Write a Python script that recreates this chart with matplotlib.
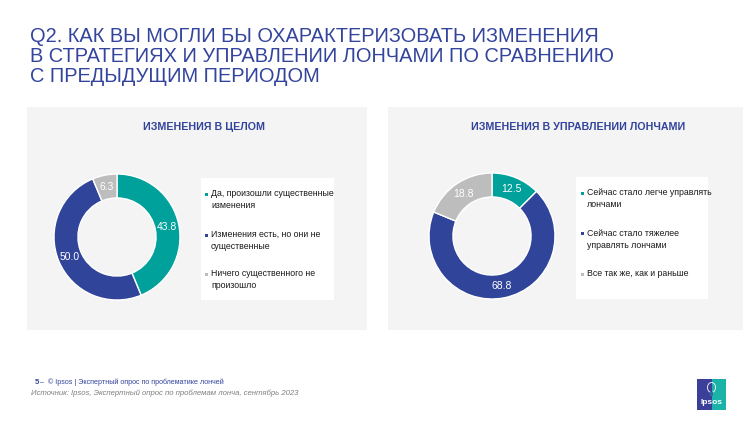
import matplotlib
matplotlib.use("Agg")
import matplotlib.pyplot as plt
from matplotlib.patches import Rectangle, Ellipse

plt.rcParams['font.family'] = ['Liberation Sans', 'DejaVu Sans']

TEAL = '#00A19B'
BLUE = '#30449A'
GRAY = '#BDBDBD'
PANEL = '#F4F4F4'
TITLE_C = '#33449C'

title_lines = ["Q2. КАК ВЫ МОГЛИ БЫ ОХАРАКТЕРИЗОВАТЬ ИЗМЕНЕНИЯ",
               "В СТРАТЕГИЯХ И УПРАВЛЕНИИ ЛОНЧАМИ ПО СРАВНЕНИЮ",
               "С ПРЕДЫДУЩИМ ПЕРИОДОМ"]

chart1_title = "ИЗМЕНЕНИЯ В ЦЕЛОМ"
chart1_labels = ["Да, произошли существенные\nизменения",
                 "Изменения есть, но они не\nсущественные",
                 "Ничего существенного не\nпроизошло"]
chart1_values = [43.8, 50.0, 6.3]

chart2_title = "ИЗМЕНЕНИЯ В УПРАВЛЕНИИ ЛОНЧАМИ"
chart2_labels = ["Сейчас стало легче управлять\nлончами",
                 "Сейчас стало тяжелее\nуправлять лончами",
                 "Все так же, как и раньше"]
chart2_values = [12.5, 68.8, 18.8]

colors = [TEAL, BLUE, GRAY]

W, H = 750, 422
fig = plt.figure(figsize=(W / 100, H / 100), dpi=100)
fig.patch.set_facecolor('white')


def px_rect(x0, y0, x1, y1):
    """pixel box (top-left origin) -> figure fraction [l, b, w, h]"""
    return [x0 / W, 1 - y1 / H, (x1 - x0) / W, (y1 - y0) / H]


def fx(x):
    return x / W


def fy(y):
    return 1 - y / H


# Main title
for i, line in enumerate(title_lines):
    fig.text(fx(30), fy(36.5 + 20 * i), line, fontsize=14.4, color=TITLE_C,
             va='center', ha='left')

# Panels
for (x0, y0, x1, y1) in [(27, 107, 367, 330), (388, 107, 743, 330)]:
    l, b, w, h = px_rect(x0, y0, x1, y1)
    fig.patches.append(Rectangle((l, b), w, h, transform=fig.transFigure,
                                 facecolor=PANEL, edgecolor='none', zorder=0))


def draw_chart(title, title_x, labels, values, center, legend_box, marker_x,
               text_x, item_ys):
    fig.text(fx(title_x), fy(127), title, fontsize=7.7, fontweight='bold',
             color=TITLE_C, ha='center', va='center')
    cx, cy = center
    r = 63
    ax = fig.add_axes(px_rect(cx - r, cy - r, cx + r, cy + r), zorder=5)
    ax.patch.set_alpha(0)
    wedges, texts, autotexts = ax.pie(
        values, colors=colors, startangle=90, counterclock=False, radius=1.0,
        wedgeprops=dict(width=0.38, edgecolor='white', linewidth=1.0),
        autopct=lambda p: '', pctdistance=0.81)
    ax.set_xlim(-1, 1)
    ax.set_ylim(-1, 1)
    ax.set_aspect('equal')
    ax.axis('off')
    for at, v in zip(autotexts, values):
        at.set_text(f"{v:.1f}")
        at.set_color('white')
        at.set_fontsize(7.5)
    # legend box
    l, b, w, h = px_rect(*legend_box)
    fig.patches.append(Rectangle((l, b), w, h, transform=fig.transFigure,
                                 facecolor='white', edgecolor='none', zorder=1))
    for lab, c, yy in zip(labels, colors, item_ys):
        fig.patches.append(Rectangle((fx(marker_x - 1.5), fy(yy + 1.5)),
                                     3 / W, 3 / H, transform=fig.transFigure,
                                     facecolor=c, edgecolor='none', zorder=2))
        fig.text(fx(text_x), fy(yy - 5), lab, fontsize=6.3, color='#1A1A1A',
                 ha='left', va='top', linespacing=1.45, zorder=3)


draw_chart(chart1_title, 204, chart1_labels, chart1_values, (117, 237),
           (201, 178, 334, 300), 206, 211, [194, 235, 274])
draw_chart(chart2_title, 578, chart2_labels, chart2_values, (492, 236),
           (576, 177, 708, 299), 582, 587, [193, 234, 274])

# Footer
fig.text(fx(35), fy(382), "5", fontsize=5.5, fontweight='bold', color=TITLE_C,
         ha='left', va='center')
fig.text(fx(40), fy(382), "–  © Ipsos | Экспертный опрос по проблематике лончей",
         fontsize=5.1, color=TITLE_C, ha='left', va='center')
fig.text(fx(31), fy(393), "Источник: Ipsos, Экспертный опрос по проблемам лонча, сентябрь 2023",
         fontsize=5.6, color='#7F7F7F', style='italic', ha='left', va='center')

# Logo
lx0, ly0, lx1, ly1 = 697, 379, 726, 410
l, b, w, h = px_rect(lx0, ly0, lx1, ly1)
fig.patches.append(Rectangle((l, b), w / 2, h, transform=fig.transFigure,
                             facecolor='#3B3F9A', edgecolor='none', zorder=1))
fig.patches.append(Rectangle((l + w / 2, b), w / 2, h, transform=fig.transFigure,
                             facecolor='#1BB3A8', edgecolor='none', zorder=1))
fig.patches.append(Ellipse((fx(711.5), fy(387.5)), 8 / W, 10 / H,
                           transform=fig.transFigure, facecolor='none',
                           edgecolor='white', linewidth=0.6, zorder=2))
fig.patches.append(Rectangle((fx(710), fy(396)), 3 / W, 4 / H,
                             transform=fig.transFigure, facecolor='#2A6F9A',
                             edgecolor='none', zorder=2))
fig.text(fx(711.5), fy(402.5), "Ipsos", fontsize=6, fontweight='bold',
         color='white', ha='center', va='center', zorder=3)

fig.savefig("out.png", dpi=100, facecolor='white')
